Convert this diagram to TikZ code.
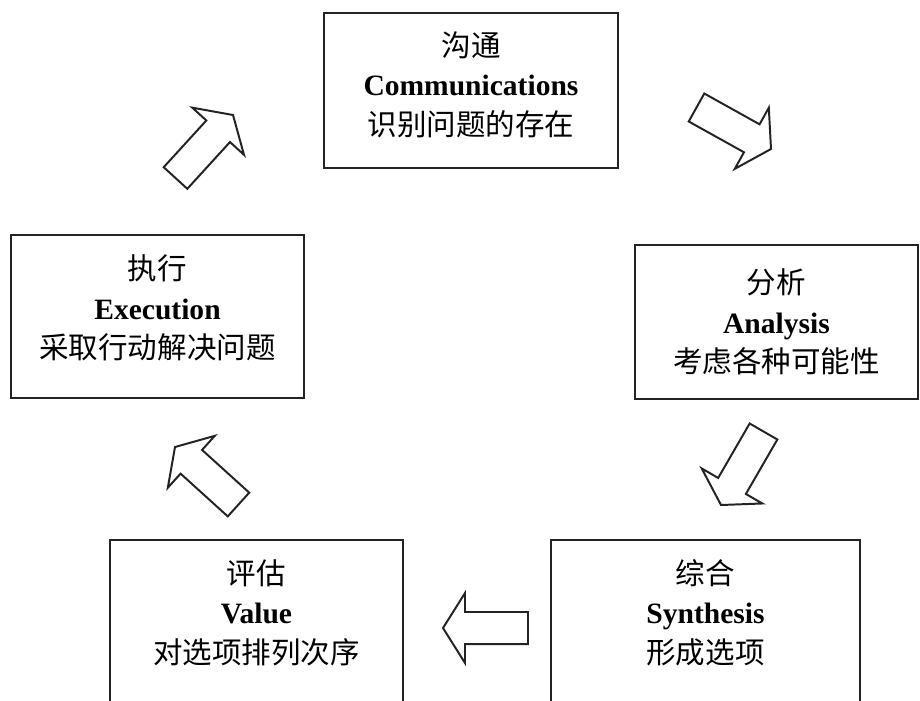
\documentclass[tikz,border=0pt]{standalone}
\usepackage{fontspec}
\setmainfont{Liberation Serif}
\newfontfamily\cjk{Noto Sans CJK SC}
\usetikzlibrary{calc}
\definecolor{boxline}{RGB}{35,35,35}
\tikzset{every node/.append style={align=center}}
\tikzset{
  stage/.style={rectangle, draw=boxline, line width=1.6pt, inner sep=0pt,
    font=\fontsize{21}{28}\selectfont, align=center},
  flow/.style={draw=boxline, line width=1.4pt, line join=miter, fill=white}
}
\newcommand{\cn}[1]{{\cjk #1}}
\newcommand{\en}[1]{{\bfseries #1}}
% hollow block arrow from tail (#1) to tip (#2)
\newcommand{\hollowarrow}[2]{%
  \coordinate (hb) at ($(#2)!0.55cm!(#1)$);
  \draw[flow] ($(#1)!0.4cm!90:(#2)$) -- ($(hb)!0.4cm!90:(#2)$)
    -- ($(hb)!0.875cm!90:(#2)$) -- (#2) -- ($(hb)!0.875cm!-90:(#2)$)
    -- ($(hb)!0.4cm!-90:(#2)$) -- ($(#1)!0.4cm!-90:(#2)$) -- cycle;
}

\begin{document}
\begin{tikzpicture}[x=0.025cm, y=-0.025cm]
  \useasboundingbox (0,0) rectangle (920,700);
  \clip (0,0) rectangle (920,700);
  \node[stage, minimum width=7.35cm, minimum height=3.875cm, text depth=10pt] (comm) at (471,90.5)
    {\cn{沟通}\\\en{Communications}\\\cn{识别问题的存在}};
  \node[stage, minimum width=7.075cm, minimum height=3.85cm] (anal) at (776.5,322)
    {\cn{分析}\\\en{Analysis}\\\cn{考虑各种可能性}};
  \node[stage, minimum width=7.725cm, minimum height=4.1cm, text depth=15pt] (synth) at (705.5,622)
    {\cn{综合}\\\en{Synthesis}\\\cn{形成选项}};
  \node[stage, minimum width=7.325cm, minimum height=4.1cm, text depth=15pt] (value) at (256.5,622)
    {\cn{评估}\\\en{Value}\\\cn{对选项排列次序}};
  \node[stage, minimum width=7.325cm, minimum height=4.075cm, text depth=14pt] (exec) at (157.5,316.5)
    {\cn{执行}\\\en{Execution}\\\cn{采取行动解决问题}};
  % arrow ends
  \coordinate (a1) at (175.5,178);   \coordinate (b1) at (233,115);
  \coordinate (a2) at (696.5,107.5); \coordinate (b2) at (771,149);
  \coordinate (a3) at (763.5,431.5); \coordinate (b3) at (721,505);
  \coordinate (a4) at (528,628);     \coordinate (b4) at (443,628);
  \coordinate (a5) at (238.5,504.5); \coordinate (b5) at (175,447);
  \hollowarrow{a1}{b1}
  \hollowarrow{a2}{b2}
  \hollowarrow{a3}{b3}
  \hollowarrow{a4}{b4}
  \hollowarrow{a5}{b5}
\end{tikzpicture}
\end{document}
